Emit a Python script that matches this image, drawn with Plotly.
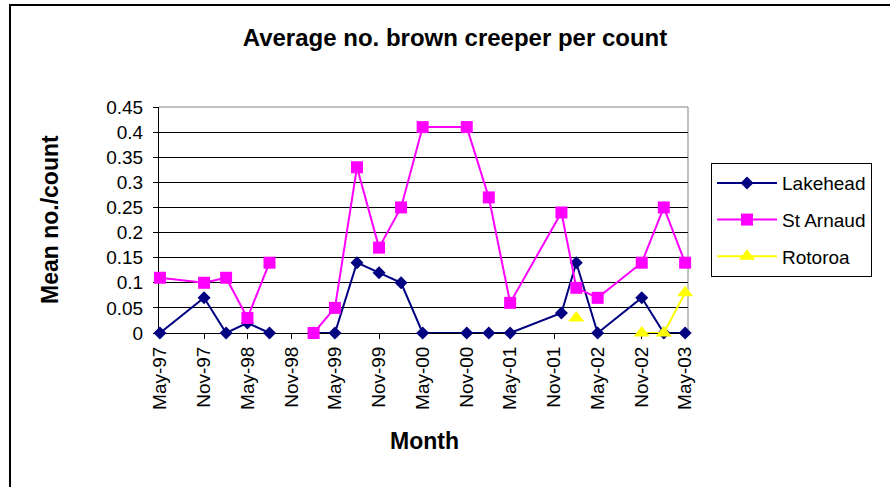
import plotly.graph_objects as go

# Survey months (shared by all sites); None marks a month with no count
months = ["1997-05", "1997-11", "1998-02", "1998-05", "1998-08", "1998-11",
          "1999-02", "1999-05", "1999-08", "1999-11", "2000-02", "2000-05",
          "2000-11", "2001-02", "2001-05", "2001-12", "2002-02", "2002-05",
          "2002-11", "2003-02", "2003-05"]

lakehead = [0, 0.07, 0, 0.02, 0, None,
            0, 0, 0.14, 0.12, 0.10, 0,
            0, 0, 0, 0.04, 0.14, 0,
            0.07, 0, 0]

st_arnaud = [0.11, 0.10, 0.11, 0.03, 0.14, None,
             0, 0.05, 0.33, 0.17, 0.25, 0.41,
             0.41, 0.27, 0.06, 0.24, 0.09, 0.07,
             0.14, 0.25, 0.14]

rotoroa = [None, None, None, None, None, None,
           None, None, None, None, None, None,
           None, None, None, None, 0.03, None,
           0, 0, 0.08]

# Axis ticks
x_tick_vals = ["1997-05-01", "1997-11-01", "1998-05-01", "1998-11-01",
               "1999-05-01", "1999-11-01", "2000-05-01", "2000-11-01",
               "2001-05-01", "2001-11-01", "2002-05-01", "2002-11-01",
               "2003-05-01"]
x_tick_text = ["May-97", "Nov-97", "May-98", "Nov-98", "May-99", "Nov-99",
               "May-00", "Nov-00", "May-01", "Nov-01", "May-02", "Nov-02",
               "May-03"]
y_tick_vals = [0, 0.05, 0.1, 0.15, 0.2, 0.25, 0.3, 0.35, 0.4, 0.45]
y_tick_text = ["0", "0.05", "0.1", "0.15", "0.2", "0.25", "0.3", "0.35",
               "0.4", "0.45"]

FONT = "Liberation Sans, Arial, sans-serif"

fig = go.Figure()
fig.add_trace(go.Scatter(
    x=months, y=lakehead, name="Lakehead", mode="lines+markers",
    line=dict(color="#000080", width=2),
    marker=dict(symbol="diamond", size=10, color="#000080"),
    connectgaps=False, cliponaxis=False, legendgroup="a"))
fig.add_trace(go.Scatter(
    x=months, y=st_arnaud, name="St Arnaud", mode="lines+markers",
    line=dict(color="#FF00FF", width=2),
    marker=dict(symbol="square", size=12, color="#FF00FF"),
    connectgaps=False, cliponaxis=False, legendgroup="b"))
fig.add_trace(go.Scatter(
    x=months, y=rotoroa, name="Rotoroa", mode="lines+markers",
    line=dict(color="#FFFF00", width=2),
    marker=dict(symbol="triangle-up", size=14, color="#FFFF00"),
    connectgaps=False, cliponaxis=False, legendgroup="c"))

fig.update_layout(
    width=890, height=487,
    margin=dict(l=159, r=202, t=107, b=154),
    paper_bgcolor="white", plot_bgcolor="white",
    font=dict(family=FONT, size=19, color="black"),
    title=dict(text="<b>Average no. brown creeper per count</b>",
               font=dict(family=FONT, size=24, color="black"),
               x=455 / 890, xref="container", xanchor="center",
               y=1 - 38 / 487, yref="container", yanchor="middle"),
    showlegend=True,
    legend=dict(x=1.0435, y=0.752, xanchor="left", yanchor="top",
                bordercolor="black", borderwidth=1, bgcolor="white",
                font=dict(family=FONT, size=19, color="black"),
                itemwidth=60,
                tracegroupgap=9, traceorder="grouped"),
)

fig.update_xaxes(
    type="date", range=["1997-04-27", "2003-05-13"],
    tickmode="array", tickvals=x_tick_vals, ticktext=x_tick_text,
    tickangle=-90, ticks="outside", ticklen=5, tickcolor="black",
    showline=True, linecolor="black", linewidth=1,
    showgrid=False, zeroline=False, layer="below traces",
    tickfont=dict(family=FONT, size=19, color="black"))

fig.update_yaxes(
    range=[0, 0.45], tickmode="array", tickvals=y_tick_vals,
    ticktext=y_tick_text, ticks="outside", ticklen=5, tickcolor="black",
    ticklabelstandoff=6,
    showline=True, linecolor="black", linewidth=1,
    showgrid=True, gridcolor="black", gridwidth=1, zeroline=False,
    layer="below traces",
    tickfont=dict(family=FONT, size=19, color="black"))

# Axis titles
fig.add_annotation(text="<b>Month</b>", xref="paper", yref="paper",
                   x=(424 - 159) / 529, y=(333 - 441) / 226,
                   xanchor="center", yanchor="middle", showarrow=False,
                   font=dict(family=FONT, size=23, color="black"))
fig.add_annotation(text="<b>Mean no./count</b>", xref="paper", yref="paper",
                   x=(50 - 159) / 529, y=0.5, textangle=-90,
                   xanchor="center", yanchor="middle", showarrow=False,
                   font=dict(family=FONT, size=23, color="black"))

# Grey plot-area border on the top and right edges
fig.add_shape(type="line", xref="paper", yref="paper", x0=0, x1=1, y0=1, y1=1,
              line=dict(color="#808080", width=1), layer="between")
fig.add_shape(type="line", xref="paper", yref="paper", x0=1, x1=1, y0=0, y1=1,
              line=dict(color="#808080", width=1), layer="between")

# Chart frame
fig.add_shape(type="rect", xref="paper", yref="paper",
              x0=(10 - 159) / 529, x1=1.6, y0=-1.2, y1=(333 - 5) / 226,
              line=dict(color="black", width=2), fillcolor="rgba(0,0,0,0)",
              layer="below")

fig.write_html("out.html")
